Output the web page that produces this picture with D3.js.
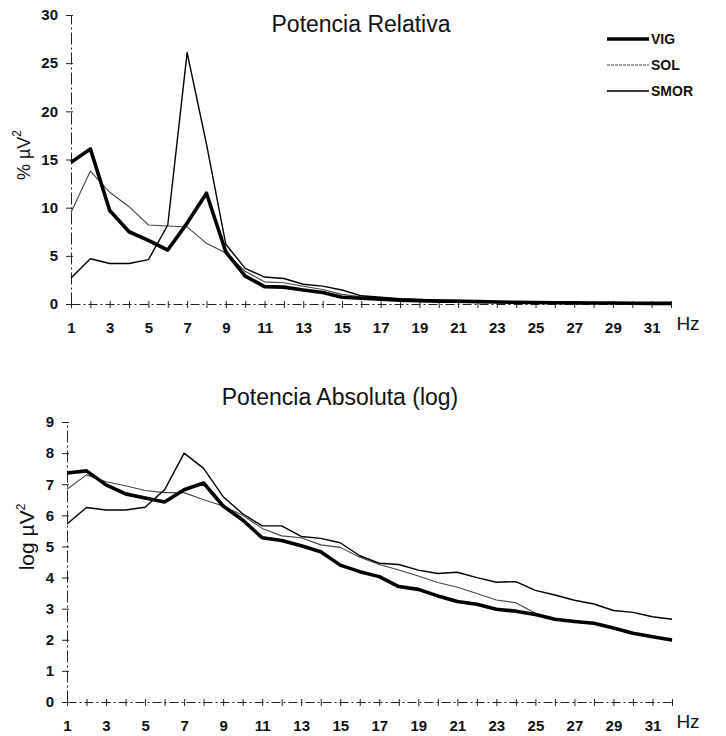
<!DOCTYPE html>
<html>
<head>
<meta charset="utf-8">
<script src="https://cdn.jsdelivr.net/npm/d3@7"></script>
<style>
    body { margin: 0; background: #fff; }
    text { font-family: "Liberation Sans", Arial, sans-serif; fill: #111; }
</style>
</head>
<body>
<div id="chart"></div>
<script>
// frequency bins (Hz) and the labelled ones
const freqs = [1, 2, 3, 4, 5, 6, 7, 8, 9, 10, 11, 12, 13, 14, 15, 16,
    17, 18, 19, 20, 21, 22, 23, 24, 25, 26, 27, 28, 29, 30, 31, 32];
const freqLabels = [1, 3, 5, 7, 9, 11, 13, 15, 17, 19, 21, 23, 25, 27, 29, 31];
const seriesNames = ["VIG", "SOL", "SMOR"];

// relative power (% uV2)
const relTicks = [0, 5, 10, 15, 20, 25, 30];
const relVIG = [14.7, 16.1, 9.7, 7.5, 6.6, 5.6, 8.4, 11.5, 5.4, 2.9, 1.8, 1.75, 1.45, 1.2, 0.7, 0.6,
    0.5, 0.4, 0.35, 0.3, 0.28, 0.25, 0.2, 0.18, 0.15, 0.13, 0.12, 0.1, 0.1, 0.08, 0.07, 0.06];
const relSOL = [9.5, 13.8, 11.6, 10.1, 8.2, 8.1, 8.0, 6.3, 5.3, 3.4, 2.3, 2.2, 1.85, 1.5, 1.0, 0.75,
    0.6, 0.5, 0.42, 0.36, 0.32, 0.28, 0.24, 0.2, 0.18, 0.15, 0.13, 0.12, 0.1, 0.09, 0.08, 0.07];
const relSMOR = [2.7, 4.7, 4.2, 4.2, 4.6, 8.2, 26.1, 16.6, 6.2, 3.7, 2.8, 2.65, 2.05, 1.85, 1.45, 0.85,
    0.7, 0.55, 0.48, 0.4, 0.36, 0.3, 0.27, 0.23, 0.2, 0.17, 0.15, 0.13, 0.12, 0.1, 0.09, 0.08];

// absolute power (log uV2)
const absTicks = [0, 1, 2, 3, 4, 5, 6, 7, 8, 9];
const absVIG = [7.36, 7.43, 6.98, 6.69, 6.56, 6.43, 6.82, 7.04, 6.3, 5.85, 5.28, 5.19, 5.02, 4.83, 4.4, 4.19,
    4.03, 3.71, 3.62, 3.41, 3.23, 3.14, 2.98, 2.92, 2.81, 2.66, 2.59, 2.53, 2.38, 2.21, 2.1, 1.99];
const absSOL = [6.84, 7.3, 7.08, 6.95, 6.8, 6.73, 6.73, 6.5, 6.3, 6.0, 5.58, 5.34, 5.28, 5.05, 4.97, 4.65,
    4.42, 4.24, 4.05, 3.84, 3.69, 3.49, 3.28, 3.19, 2.85, 2.68, 2.61, 2.54, 2.37, 2.19, 2.08, 1.96];
const absSMOR = [5.72, 6.25, 6.17, 6.17, 6.26, 6.82, 8.0, 7.51, 6.6, 6.05, 5.66, 5.66, 5.32, 5.26, 5.12, 4.7,
    4.46, 4.42, 4.24, 4.13, 4.17, 4.0, 3.85, 3.87, 3.59, 3.44, 3.27, 3.15, 2.94, 2.88, 2.74, 2.66];

const lineStyle = {
    VIG: { width: 3.6, color: "#000" },
    SOL: { width: 1.1, color: "#444" },
    SMOR: { width: 1.4, color: "#000" }
};

const svg = d3.select("#chart").append("svg")
    .attr("width", 726)
    .attr("height", 736);

function drawPanel(cfg, values) {
    let g = svg.append("g");

    let x = d3.scaleLinear().domain([1, 32]).range([cfg.left, cfg.right]);
    let y = d3.scaleLinear().domain(cfg.yDomain).range([cfg.bottom, cfg.top]);

    // x axis, cross-shaped ticks at every Hz
    let xAxis = g.append("g")
        .attr("transform", `translate(0,${cfg.bottom})`)
        .call(d3.axisBottom(x)
            .tickValues(freqs)
            .tickSizeInner(4)
            .tickSizeOuter(0)
            .tickPadding(25)
            .tickFormat(d => (freqLabels.includes(d) ? d : "")));
    xAxis.selectAll(".tick line").attr("y1", -3).attr("stroke", "#222");
    xAxis.selectAll(".tick text")
        .attr("font-size", "15px")
        .attr("font-weight", "bold")
        .attr("dy", "0");
    xAxis.select(".domain")
        .attr("stroke", "#222")
        .attr("stroke-dasharray", "9,3,2,3");

    // y axis
    let yAxis = g.append("g")
        .attr("transform", `translate(${cfg.left},0)`)
        .call(d3.axisLeft(y)
            .tickValues(cfg.ticks)
            .tickSizeInner(5)
            .tickSizeOuter(0)
            .tickPadding(8));
    yAxis.selectAll(".tick line").attr("x1", 2).attr("stroke", "#222");
    yAxis.selectAll(".tick text")
        .attr("font-size", "15px")
        .attr("font-weight", "bold");
    yAxis.select(".domain")
        .attr("stroke", "#222")
        .attr("stroke-dasharray", "12,3,2,3");

    // Hz unit
    g.append("text")
        .text("Hz")
        .attr("x", 688)
        .attr("y", cfg.bottom + 26)
        .attr("text-anchor", "middle")
        .attr("font-size", "19px");

    // title
    g.append("text")
        .text(cfg.title)
        .attr("x", cfg.titleX)
        .attr("y", cfg.titleY)
        .attr("text-anchor", "middle")
        .attr("font-size", "23px");

    // y label with superscript
    let yl = g.append("text")
        .attr("transform", `translate(${cfg.yLabelX},${cfg.yLabelY}) rotate(-90)`)
        .attr("text-anchor", "middle")
        .attr("font-size", cfg.yLabelSize);
    yl.append("tspan").text(cfg.yLabel);
    yl.append("tspan").text("2").attr("font-size", "12px").attr("dy", -9);

    let line = d3.line()
        .x((d, i) => x(freqs[i]))
        .y(d => y(d));

    ["SOL", "SMOR", "VIG"].forEach(name => {
        g.append("path")
            .datum(values[name])
            .attr("d", line)
            .attr("fill", "none")
            .attr("stroke", lineStyle[name].color)
            .attr("stroke-width", lineStyle[name].width)
            .attr("stroke-linejoin", "round");
    });
}

drawPanel({
    left: 71, right: 671, top: 15, bottom: 304,
    yDomain: [0, 30], ticks: relTicks,
    title: "Potencia Relativa", titleX: 361, titleY: 32,
    yLabel: "% µV", yLabelX: 30, yLabelY: 155, yLabelSize: "18px"
}, { VIG: relVIG, SOL: relSOL, SMOR: relSMOR });

drawPanel({
    left: 67, right: 672, top: 422, bottom: 702,
    yDomain: [0, 9], ticks: absTicks,
    title: "Potencia Absoluta (log)", titleX: 340, titleY: 405,
    yLabel: "log µV", yLabelX: 34, yLabelY: 537, yLabelSize: "21px"
}, { VIG: absVIG, SOL: absSOL, SMOR: absSMOR });

// legend
let legend = svg.append("g").attr("class", "legend");
let legendY = d3.scalePoint().domain(seriesNames).range([39, 91]);
seriesNames.forEach(name => {
    legend.append("line")
        .attr("x1", 607).attr("x2", 649)
        .attr("y1", legendY(name)).attr("y2", legendY(name))
        .attr("stroke", lineStyle[name].color)
        .attr("stroke-width", lineStyle[name].width)
        .attr("stroke-dasharray", name === "SOL" ? "3,1" : null);
    legend.append("text")
        .text(name)
        .attr("x", 651)
        .attr("y", legendY(name))
        .attr("dy", "0.36em")
        .attr("font-size", "14px")
        .attr("font-weight", "bold");
});
</script>
</body>
</html>
